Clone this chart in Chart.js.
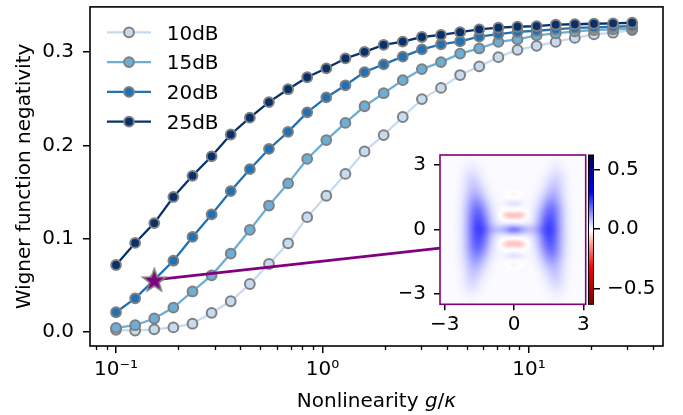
<!DOCTYPE html>
<html>
<head>
<meta charset="utf-8">
<script src="https://cdn.jsdelivr.net/npm/chart.js@4.4.1/dist/chart.umd.min.js"></script>
<style>
  body { margin: 0; background: #fff; }
  #wrap { position: relative; width: 683px; height: 415px; }
  canvas { position: absolute; }
</style>
</head>
<body>
<div id="wrap">
  <canvas id="main" width="683" height="415" style="left:0;top:0"></canvas>
  <canvas id="inset" width="200" height="185" style="left:400px;top:150px"></canvas>
  <canvas id="cbar" width="95" height="185" style="left:588px;top:150px"></canvas>
</div>
<script>
const FS = 20;
const FONT = FS + "px 'DejaVu Sans'";
Chart.defaults.font.family = "'DejaVu Sans'";
Chart.defaults.font.size = FS;
Chart.defaults.color = "#000";

// nonlinearity g/kappa (log spaced, 0.1 .. 31.6)
const gk = [0.1, 0.12376, 0.15317, 0.18957, 0.23462, 0.29036, 0.35938, 0.44477,
  0.55046, 0.68129, 0.84317, 1.04356, 1.29155, 1.59848, 1.97834, 2.44844,
  3.0303, 3.7504, 4.64159, 5.74456, 7.10961, 8.79923, 10.8902, 13.4781,
  16.681, 20.6451, 25.551, 31.6228];

const neg10 = [0.0022, 0.0014, 0.0027, 0.0047, 0.0087, 0.0204, 0.0328, 0.0513,
  0.0728, 0.095, 0.123, 0.146, 0.1694, 0.1936, 0.2111, 0.2305, 0.2497, 0.2617,
  0.2755, 0.2848, 0.2947, 0.3025, 0.3068, 0.311, 0.3153, 0.3191, 0.3209, 0.3238];
const neg15 = [0.0043, 0.0071, 0.0143, 0.026, 0.0433, 0.0606, 0.084, 0.1093,
  0.1355, 0.1593, 0.1855, 0.2057, 0.2241, 0.242, 0.256, 0.27, 0.2819, 0.2894,
  0.2985, 0.304, 0.311, 0.3138, 0.318, 0.3202, 0.3223, 0.3238, 0.3245, 0.3252];
const neg20 = [0.021, 0.0359, 0.0557, 0.0763, 0.1018, 0.126, 0.151, 0.1745,
  0.1962, 0.2146, 0.2355, 0.2515, 0.2645, 0.2787, 0.287, 0.2952, 0.303, 0.3085,
  0.3117, 0.3167, 0.3195, 0.3217, 0.323, 0.3245, 0.326, 0.3266, 0.3273, 0.328];
const neg25 = [0.0717, 0.0954, 0.1167, 0.1447, 0.1674, 0.1883, 0.2117, 0.2298,
  0.2465, 0.2603, 0.2731, 0.2827, 0.2933, 0.3004, 0.3079, 0.3114, 0.3163, 0.3185,
  0.3215, 0.3245, 0.3263, 0.3273, 0.328, 0.3295, 0.33, 0.3305, 0.331, 0.3316];

const seriesNames = ["10dB", "15dB", "20dB", "25dB"];
const seriesColors = ["#c6dbef", "#6baed6", "#2171b5", "#08306b"];

// highlighted state and the end of its link to the inset
const starPoint = { x: 0.15317, y: 0.0557 };
const linkEnd = { x: 3.71, y: 0.0898 };

const xMajor = [0.1, 1, 10];
const xMajorLabels = ["10\u207B\u00B9", "10\u2070", "10\u00B9"];
const xMinor = [0.08, 0.09, 0.2, 0.3, 0.4, 0.5, 0.6, 0.7, 0.8, 0.9,
  2, 3, 4, 5, 6, 7, 8, 9, 20, 30, 40];
const yTicks = [0, 0.1, 0.2, 0.3];

// inset: Wigner function, read as blobs [x, y, sx, sy, value]
const wignerBlobs = [
  [-1.52, 0, 0.38, 0.6, 0.19], [1.52, 0, 0.38, 0.6, 0.19],
  [-1.6, 0.95, 0.36, 0.5, 0.1], [-1.6, -0.95, 0.36, 0.5, 0.1],
  [1.6, 0.95, 0.36, 0.5, 0.1], [1.6, -0.95, 0.36, 0.5, 0.1],
  [-1.72, 1.75, 0.32, 0.55, 0.05], [-1.72, -1.75, 0.32, 0.55, 0.05],
  [1.72, 1.75, 0.32, 0.55, 0.05], [1.72, -1.75, 0.32, 0.55, 0.05],
  [-1.87, 2.5, 0.27, 0.45, 0.02], [-1.87, -2.5, 0.27, 0.45, 0.02],
  [1.87, 2.5, 0.27, 0.45, 0.02], [1.87, -2.5, 0.27, 0.45, 0.02],
  [0, 0, 0.7, 0.17, 0.09], [0, 0, 0.25, 0.14, 0.06],
  [0, 0.64, 0.3, 0.13, -0.07], [0, -0.64, 0.3, 0.13, -0.07],
  [-0.3, 0.72, 0.17, 0.12, -0.03], [0.3, 0.72, 0.17, 0.12, -0.03],
  [-0.3, -0.72, 0.17, 0.12, -0.03], [0.3, -0.72, 0.17, 0.12, -0.03],
  [0, 1.22, 0.28, 0.11, 0.03], [0, -1.22, 0.28, 0.11, 0.03],
  [0, 1.64, 0.2, 0.1, -0.018], [0, -1.64, 0.2, 0.1, -0.018]
];
const insetTicks = [-3, 0, 3];
const cbarTicks = [-0.5, 0, 0.5];
const cbarMin = -0.63, cbarMax = 0.62;

// seismic_r colour map
const cmapStops = [[0, [128, 0, 0]], [0.25, [255, 0, 0]], [0.5, [255, 255, 255]],
  [0.75, [0, 0, 255]], [1, [0, 0, 77]]];
function cmap(t) {
  t = Math.max(0, Math.min(1, t));
  for (let i = 1; i < cmapStops.length; i++) {
    if (t <= cmapStops[i][0]) {
      const a = cmapStops[i - 1], b = cmapStops[i];
      const f = (t - a[0]) / (b[0] - a[0]);
      return a[1].map((c, j) => c + (b[1][j] - c) * f);
    }
  }
  return cmapStops[cmapStops.length - 1][1];
}

function makeStar() {
  const c = document.createElement("canvas");
  c.width = 30; c.height = 30;
  const g = c.getContext("2d");
  g.beginPath();
  for (let i = 0; i < 10; i++) {
    const r = i % 2 ? 5 : 12.2;
    const a = -Math.PI / 2 + i * Math.PI / 5;
    g.lineTo(15 + r * Math.cos(a), 16 + r * Math.sin(a));
  }
  g.closePath();
  g.fillStyle = "#800080";
  g.fill();
  g.strokeStyle = "#808080";
  g.lineWidth = 1.6;
  g.stroke();
  return c;
}

// drop the extra room Chart.js keeps for end labels
function noPad(s) {
  s.paddingTop = 0; s.paddingBottom = 0; s.paddingLeft = 0; s.paddingRight = 0;
}

const datasets = [neg10, neg15, neg20, neg25].map((s, i) => ({
  label: seriesNames[i],
  data: s.map((v, k) => ({ x: gk[k], y: v })),
  borderColor: seriesColors[i],
  backgroundColor: seriesColors[i],
  pointBorderColor: "#808080",
  pointBorderWidth: 2,
  pointRadius: 4.9,
  borderWidth: 2.3,
  tension: 0,
  order: 5 - i
}));
datasets.push({
  label: "link",
  data: [starPoint, linkEnd],
  borderColor: "#800080",
  borderWidth: 2.6,
  pointRadius: 0,
  order: 1
});
datasets.push({
  label: "star",
  type: "scatter",
  data: [starPoint],
  pointStyle: makeStar(),
  order: 0
});

const decor = {
  id: "decor",
  afterDraw(chart) {
    const ctx = chart.ctx, a = chart.chartArea, xs = chart.scales.x;
    ctx.save();
    ctx.strokeStyle = "#000";
    ctx.lineWidth = 1.6;
    ctx.strokeRect(a.left, a.top, a.right - a.left, a.bottom - a.top);
    ctx.lineWidth = 1.3;
    xMinor.forEach(v => {
      const px = Math.round(xs.getPixelForValue(v)) + 0.5;
      ctx.beginPath();
      ctx.moveTo(px, a.bottom);
      ctx.lineTo(px, a.bottom + 4);
      ctx.stroke();
    });
    ctx.fillStyle = "#000";
    ctx.font = FONT;
    // y title
    ctx.save();
    ctx.translate(29.5, (a.top + a.bottom) / 2);
    ctx.rotate(-Math.PI / 2);
    ctx.textAlign = "center";
    ctx.textBaseline = "alphabetic";
    ctx.fillText("Wigner function negativity", 0, 0);
    ctx.restore();
    // x title with italic g/kappa
    const parts = [["Nonlinearity ", FONT], ["g", "italic " + FONT],
      ["/", FONT], ["\u03BA", "italic " + FONT]];
    let w = 0;
    parts.forEach(p => { ctx.font = p[1]; w += ctx.measureText(p[0]).width; });
    let x = (a.left + a.right) / 2 - w / 2;
    ctx.textAlign = "left";
    parts.forEach(p => { ctx.font = p[1]; ctx.fillText(p[0], x, 406.5); x += ctx.measureText(p[0]).width; });
    // legend
    ctx.font = FONT;
    seriesNames.forEach((name, i) => {
      const cy = 32.3 + i * 29.8;
      ctx.strokeStyle = seriesColors[i];
      ctx.lineWidth = 2.3;
      ctx.beginPath();
      ctx.moveTo(107, cy);
      ctx.lineTo(151, cy);
      ctx.stroke();
      ctx.beginPath();
      ctx.arc(129, cy, 4.9, 0, Math.PI * 2);
      ctx.fillStyle = seriesColors[i];
      ctx.fill();
      ctx.strokeStyle = "#808080";
      ctx.lineWidth = 2;
      ctx.stroke();
      ctx.fillStyle = "#000";
      ctx.fillText(name, 166.7, cy + 7.3);
    });
    ctx.restore();
  }
};

new Chart(document.getElementById("main"), {
  type: "line",
  data: { datasets },
  options: {
    responsive: false,
    animation: false,
    layout: { padding: { top: 4, right: 20, left: 0, bottom: 0 } },
    scales: {
      x: {
        type: "logarithmic",
        min: 0.0748,
        max: 44.6,
        afterBuildTicks: s => { s.ticks = xMajor.map(v => ({ value: v })); },
        afterFit: s => { s.height = 69; noPad(s); },
        ticks: { callback: (v, i) => xMajorLabels[i], autoSkip: false, maxRotation: 0, padding: 5 },
        grid: { drawOnChartArea: false, tickLength: 7, color: "#000", lineWidth: 1.5 },
        border: { display: false }
      },
      y: {
        min: -0.0152,
        max: 0.3486,
        afterBuildTicks: s => { s.ticks = yTicks.map(v => ({ value: v })); },
        afterFit: s => { s.width = 90; noPad(s); },
        ticks: { callback: v => v.toFixed(1), padding: 9 },
        grid: { drawOnChartArea: false, tickLength: 7, color: "#000", lineWidth: 1.5 },
        border: { display: false }
      }
    },
    plugins: { legend: { display: false }, tooltip: { enabled: false } }
  },
  plugins: [decor]
});

const fmtInset = v => (v < 0 ? "\u2212" : "") + Math.abs(v);

const wigner = {
  id: "wigner",
  afterDraw(chart) {
    const ctx = chart.ctx, a = chart.chartArea;
    const xs = chart.scales.x, ys = chart.scales.y;
    const w = Math.round(a.right - a.left), h = Math.round(a.bottom - a.top);
    const off = document.createElement("canvas");
    off.width = w; off.height = h;
    const g = off.getContext("2d");
    const img = g.createImageData(w, h);
    for (let j = 0; j < h; j++) {
      const yv = ys.getValueForPixel(a.top + j + 0.5);
      for (let i = 0; i < w; i++) {
        const xv = xs.getValueForPixel(a.left + i + 0.5);
        let val = 0;
        for (const b of wignerBlobs) {
          const dx = (xv - b[0]) / b[2], dy = (yv - b[1]) / b[3];
          val += b[4] * Math.exp(-0.5 * (dx * dx + dy * dy));
        }
        const c = cmap((val - cbarMin) / (cbarMax - cbarMin));
        const k = (j * w + i) * 4;
        img.data[k] = c[0]; img.data[k + 1] = c[1]; img.data[k + 2] = c[2]; img.data[k + 3] = 255;
      }
    }
    g.putImageData(img, 0, 0);
    ctx.save();
    ctx.drawImage(off, a.left, a.top);
    ctx.strokeStyle = "#800080";
    ctx.lineWidth = 1.6;
    ctx.strokeRect(a.left, a.top, a.right - a.left, a.bottom - a.top);
    ctx.restore();
  }
};

new Chart(document.getElementById("inset"), {
  type: "scatter",
  data: { datasets: [] },
  options: {
    responsive: false,
    animation: false,
    layout: { padding: { top: 5, right: 14.3, left: 0, bottom: 0 } },
    scales: {
      x: {
        min: -3.2, max: 3.1,
        afterBuildTicks: s => { s.ticks = insetTicks.map(v => ({ value: v })); },
        afterFit: s => { s.height = 30.7; noPad(s); },
        ticks: { callback: fmtInset, autoSkip: false, maxRotation: 0, padding: 2 },
        grid: { drawOnChartArea: false, tickLength: 6, color: "#000", lineWidth: 1.5 },
        border: { display: false }
      },
      y: {
        min: -3.47, max: 3.47,
        afterBuildTicks: s => { s.ticks = insetTicks.map(v => ({ value: v })); },
        afterFit: s => { s.width = 40; noPad(s); },
        ticks: { callback: fmtInset, padding: 8 },
        grid: { drawOnChartArea: false, tickLength: 6, color: "#000", lineWidth: 1.5 },
        border: { display: false }
      }
    },
    plugins: { legend: { display: false }, tooltip: { enabled: false } }
  },
  plugins: [wigner]
});

const cbarPaint = {
  id: "cbarPaint",
  afterDraw(chart) {
    const ctx = chart.ctx, a = chart.chartArea;
    const grad = ctx.createLinearGradient(0, a.bottom, 0, a.top);
    cmapStops.forEach(s => grad.addColorStop(s[0], "rgb(" + s[1].join(",") + ")"));
    ctx.save();
    ctx.fillStyle = grad;
    ctx.fillRect(a.left, a.top, a.right - a.left, a.bottom - a.top);
    ctx.strokeStyle = "#000";
    ctx.lineWidth = 1;
    ctx.strokeRect(a.left + 0.5, a.top, a.right - a.left - 1, a.bottom - a.top);
    ctx.restore();
  }
};

new Chart(document.getElementById("cbar"), {
  type: "scatter",
  data: { datasets: [] },
  options: {
    responsive: false,
    animation: false,
    layout: { padding: { top: 5, right: 0, left: 0, bottom: 30.7 } },
    scales: {
      x: { display: false, min: 0, max: 1 },
      y: {
        position: "right",
        min: cbarMin, max: cbarMax,
        afterBuildTicks: s => { s.ticks = cbarTicks.map(v => ({ value: v })); },
        afterFit: s => { s.width = 89; noPad(s); },
        ticks: { callback: v => (v < 0 ? "\u2212" : "") + Math.abs(v).toFixed(1), padding: 7 },
        grid: { drawOnChartArea: false, tickLength: 6, color: "#000", lineWidth: 1.5 },
        border: { display: false }
      }
    },
    plugins: { legend: { display: false }, tooltip: { enabled: false } }
  },
  plugins: [cbarPaint]
});
</script>
</body>
</html>
